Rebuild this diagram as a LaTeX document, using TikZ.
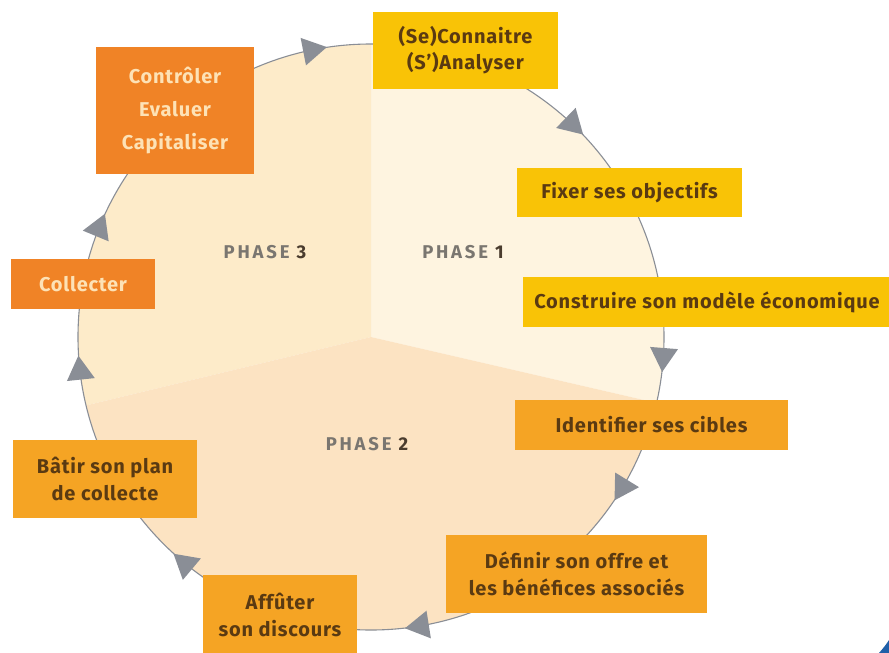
\documentclass[tikz,border=0pt]{standalone}
\usepackage{fontspec}
\setmainfont{Fira Sans}
\definecolor{phaseone}{HTML}{FEF4E0}
\definecolor{phasethree}{HTML}{FDEBC9}
\definecolor{phasetwo}{HTML}{FCE3C2}
\definecolor{boxyellow}{HTML}{F9C306}
\definecolor{boxorange}{HTML}{F5A424}
\definecolor{boxdeep}{HTML}{F08326}
\definecolor{textbrown}{HTML}{5A3A12}
\definecolor{creamtext}{HTML}{FDE2B6}
\definecolor{ringgray}{HTML}{8A8E96}
\definecolor{phasegray}{HTML}{7A7670}
\definecolor{numdark}{HTML}{4A3C2E}
\definecolor{cornerblue}{HTML}{1F5FA8}
\tikzset{
  box/.style={rectangle, inner sep=0pt, align=center, text=textbrown,
    font=\bfseries\fontsize{20}{26.5}\selectfont\addfontfeature{LetterSpace=4}},
  yel/.style={box, fill=boxyellow},
  ora/.style={box, fill=boxorange},
  dor/.style={box, fill=boxdeep, text=creamtext},
  phaselabel/.style={font=\bfseries\fontsize{18.5}{20}\selectfont\addfontfeature{LetterSpace=15}, text=phasegray},
  ring/.style={draw=ringgray, line width=1.1pt},
  tri/.style={fill=ringgray},
}
\newcommand\ringarrow[1]{\fill[tri, shift={(C)}, rotate=#1] (293,-12) -- (279,12) -- (307,12) -- cycle;}
\newcommand\phasenum[1]{{\color{numdark}#1}}
\begin{document}
\begin{tikzpicture}[x=1pt, y=1pt]
\useasboundingbox (0,0) rectangle (889,-653);
\fill[white] (0,0) rectangle (889,-653);
\coordinate (C) at (371,-337);
% sectors
\fill[phaseone] (C) -- ++(-13:293) arc[start angle=-13, end angle=90, radius=293pt] -- cycle;
\fill[phasethree] (C) -- ++(90:293) arc[start angle=90, end angle=193.5, radius=293pt] -- cycle;
\fill[phasetwo] (C) -- ++(193.5:293) arc[start angle=193.5, end angle=347, radius=293pt] -- cycle;
% ring
\draw[ring] (C) circle[radius=293pt];
% arrowheads (clockwise)
\ringarrow{101}
\ringarrow{46}
\ringarrow{-4.5}
\ringarrow{-31.5}
\ringarrow{-81}
\ringarrow{-130}
\ringarrow{186}
\ringarrow{157.5}
% phase labels
\node[phaselabel] (p3) at (265,-252) {PHASE \phasenum{3}};
\node[phaselabel] (p1) at (463,-252) {PHASE \phasenum{1}};
\node[phaselabel] (p2) at (367,-444) {PHASE \phasenum{2}};
% boxes
\node[yel, minimum width=185pt, minimum height=77pt] (conn) at (465.5,-50) {(Se)Connaitre\\(S’)Analyser};
\node[yel, minimum width=225pt, minimum height=49pt] (fix) at (629.5,-192.5) {Fixer ses objectifs};
\node[yel, minimum width=368pt, minimum height=50pt] (cons) at (707,-302) {Construire son modèle économique};
\node[ora, minimum width=273pt, minimum height=50pt] (ident) at (651.5,-425) {Identifier ses cibles};
\node[ora, minimum width=261pt, minimum height=78pt] (def) at (576.5,-574) {Définir son offre et\\les bénéfices associés};
\node[ora, minimum width=154pt, minimum height=80pt] (aff) at (280,-615) {Affûter\\son discours};
\node[ora, minimum width=184pt, minimum height=78pt] (bat) at (105,-479) {Bâtir son plan\\de collecte};
\node[dor, minimum width=144pt, minimum height=50pt] (coll) at (83,-284) {Collecter};
\node[dor, minimum width=158pt, minimum height=127pt, font=\bfseries\fontsize{20}{33}\selectfont\addfontfeature{LetterSpace=4}] (ctrl) at (175,-110) {Contrôler\\Evaluer\\Capitaliser};
% corner fragment
\fill[cornerblue] (889,-640) .. controls (885,-646) .. (879,-653) -- (889,-653) -- cycle;
\end{tikzpicture}
\end{document}
